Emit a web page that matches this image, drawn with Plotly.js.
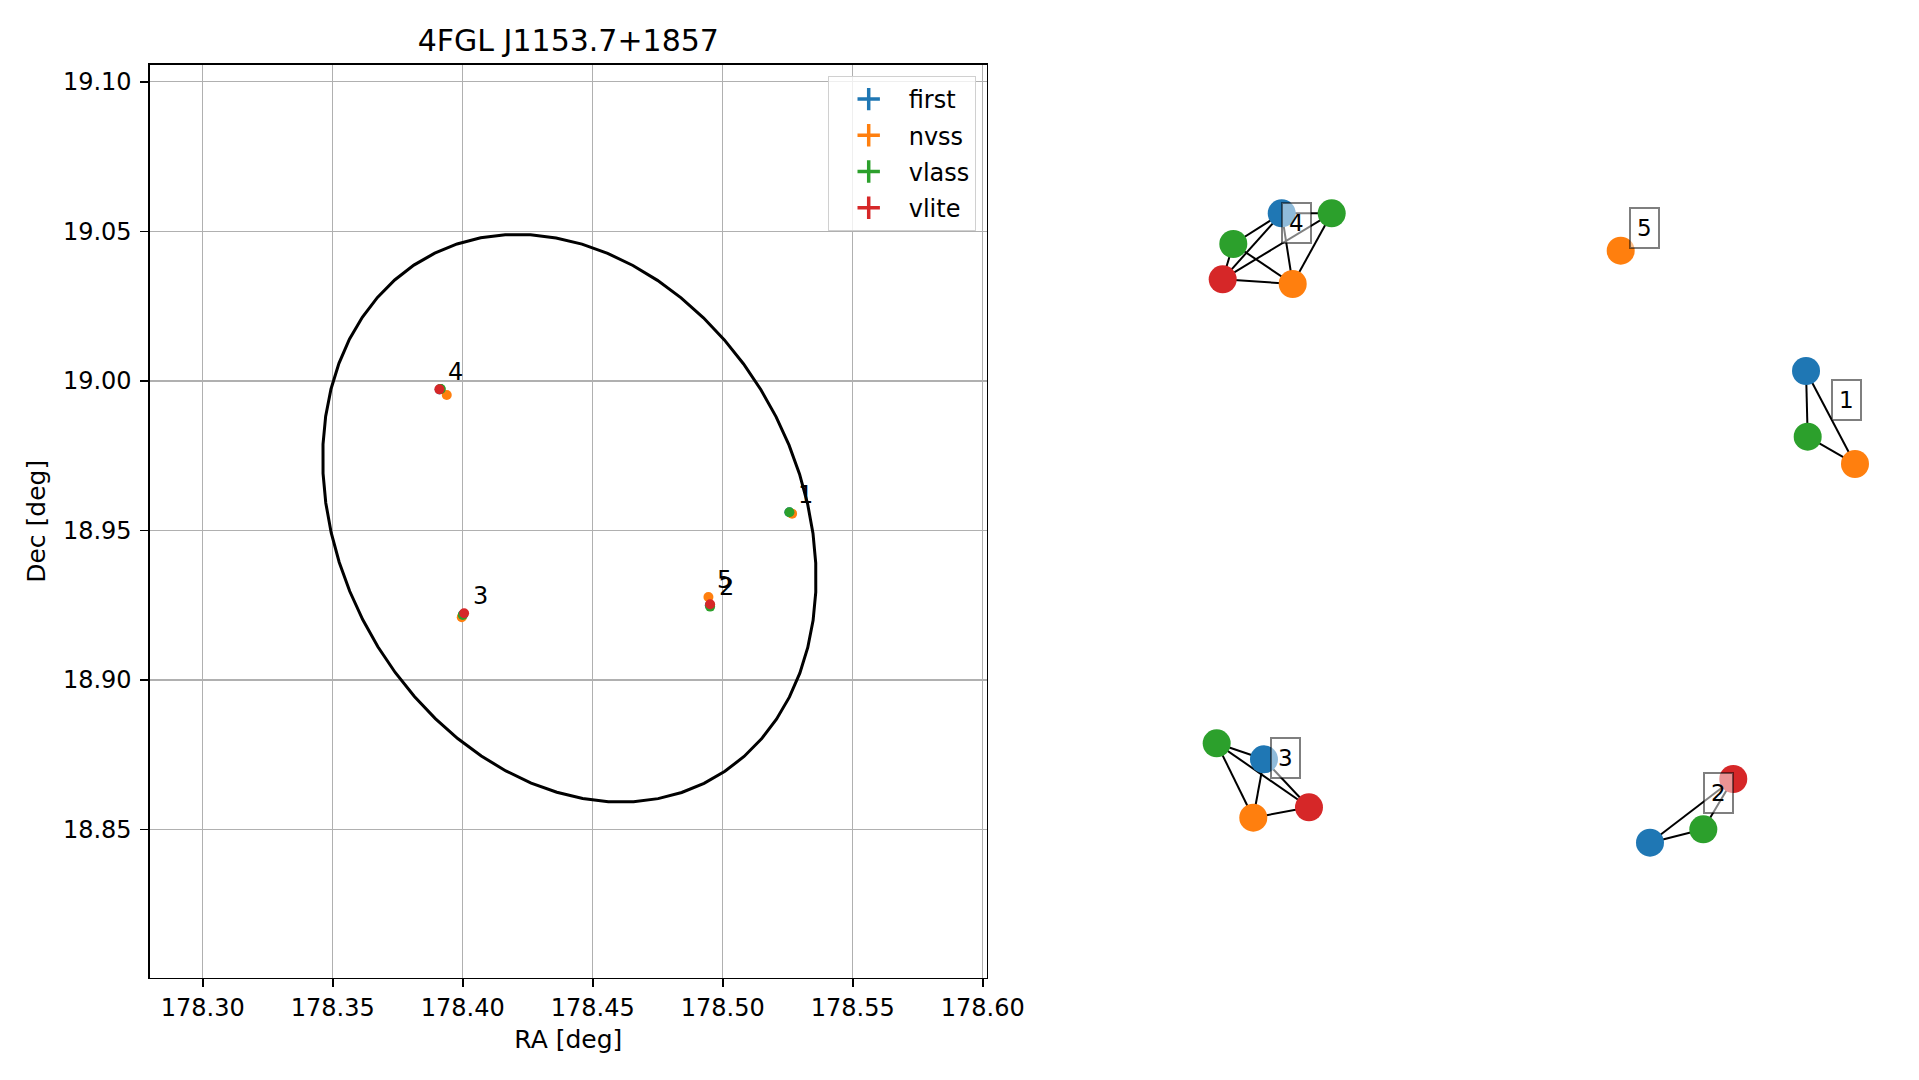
<!DOCTYPE html>
<html>
<head>
<meta charset="utf-8">
<script src="https://cdn.plot.ly/plotly-3.0.1.min.js"></script>
<style>html,body{margin:0;padding:0;background:#fff;}#chart{width:1919px;height:1080px;}</style>
</head>
<body>
<div id="chart"></div>
<script>
// ---------- data ----------
const catNames = ['first', 'nvss', 'vlass', 'vlite'];
const catColors = ['#1f77b4', '#ff7f0e', '#2ca02c', '#d62728'];

// sky positions per catalogue (deg)
const firstRA  = [178.52560, 178.49499, 178.40012, 178.39110];
const firstDec = [18.95612, 18.92499, 18.92187, 18.99710];
const nvssRA   = [178.52665, 178.39960, 178.39383, 178.49447];
const nvssDec  = [18.95563, 18.92098, 18.99529, 18.92777];
const vlassRA  = [178.52563, 178.49512, 178.39999, 178.39153, 178.39140];
const vlassDec = [18.95607, 18.92455, 18.92176, 18.99729, 18.99730];
const vliteRA  = [178.49512, 178.40050, 178.39101];
const vliteDec = [18.92533, 18.92232, 18.99718];

// source (group) ids and their reference positions
const srcIds = ['1', '2', '3', '4', '5'];
const srcRA  = [178.52563, 178.49512, 178.40050, 178.39101, 178.49447];
const srcDec = [18.95607, 18.92533, 18.92232, 18.99718, 18.92777];

// 4FGL error ellipse (centre RA, centre Dec, semi-axes, position angle; deg)
const ellRA = 178.4410, ellDec = 18.9541, ellSemiMajor = 0.1044, ellSemiMinor = 0.0843, ellAngle = -45.0;
const ellVertices = 60;

// axis ranges and ticks
const raRange = [178.2797, 178.6015];
const decRange = [18.8005, 19.1056];
const raTicks = [178.30, 178.35, 178.40, 178.45, 178.50, 178.55, 178.60];
const decTicks = [18.85, 18.90, 18.95, 19.00, 19.05, 19.10];

// cross-match graph (layout coordinates)
const nodeCat = [0, 2, 2, 3, 1, 1, 0, 2, 1, 2, 0, 1, 3, 3, 0, 2];
const nodeX = [-0.4052, -0.2916, -0.5152, -0.5393, -0.3802, 0.3652, 0.7864, 0.7902, 0.8977, -0.5530, -0.4455, -0.4698, -0.3432, 0.6211, 0.4318, 0.5530];
const nodeY = [0.6750, 0.6750, 0.6078, 0.5304, 0.5201, 0.5931, 0.3295, 0.1855, 0.1257, -0.4864, -0.5214, -0.6494, -0.6266, -0.5646, -0.7042, -0.6748];
const edgeFrom = [0, 0, 0, 0, 1, 1, 2, 2, 3, 6, 6, 7, 9, 9, 9, 10, 10, 11, 13, 13, 14];
const edgeTo   = [1, 2, 3, 4, 3, 4, 3, 4, 4, 7, 8, 8, 10, 11, 12, 11, 12, 12, 14, 15, 15];
const netLabels = ['4', '5', '1', '3', '2'];
const netLabelX = [-0.3727, 0.4189, 0.8773, -0.3977, 0.5870];
const netLabelY = [0.6531, 0.6422, 0.2659, -0.5192, -0.5959];

// ---------- build ----------
const FONT = 'DejaVu Sans, Liberation Sans, sans-serif';
const catRA = [firstRA, nvssRA, vlassRA, vliteRA];
const catDec = [firstDec, nvssDec, vlassDec, vliteDec];

const traces = [];

// ellipse outline
const ex = [], ey = [];
const th = ellAngle * Math.PI / 180;
for (let i = 0; i <= ellVertices; i++) {
  const t = 2 * Math.PI * i / ellVertices;
  const u = ellSemiMajor * Math.cos(t), v = ellSemiMinor * Math.sin(t);
  ex.push(ellRA + u * Math.cos(th) - v * Math.sin(th));
  ey.push(ellDec + u * Math.sin(th) + v * Math.cos(th));
}
traces.push({x: ex, y: ey, type: 'scatter', mode: 'lines', line: {color: '#000', width: 3},
  showlegend: false, hoverinfo: 'skip', xaxis: 'x', yaxis: 'y'});

// catalogue points
catNames.forEach((n, i) => {
  traces.push({x: catRA[i], y: catDec[i], type: 'scatter', mode: 'markers', name: n,
    marker: {color: catColors[i], size: 10}, showlegend: false, xaxis: 'x', yaxis: 'y'});
});
// legend entries (errorbar-style crosses)
catNames.forEach((n, i) => {
  traces.push({x: [null], y: [null], type: 'scatter', mode: 'markers', name: n, legendgroup: n,
    marker: {color: catColors[i], symbol: 'cross-thin', size: 24, line: {color: catColors[i], width: 3.5}},
    xaxis: 'x', yaxis: 'y'});
});

// graph edges
const lx = [], ly = [];
edgeFrom.forEach((a, k) => {
  const b = edgeTo[k];
  lx.push(nodeX[a], nodeX[b], null);
  ly.push(nodeY[a], nodeY[b], null);
});
traces.push({x: lx, y: ly, type: 'scatter', mode: 'lines', line: {color: '#000', width: 2},
  showlegend: false, hoverinfo: 'skip', xaxis: 'x2', yaxis: 'y2'});
// graph nodes
traces.push({x: nodeX, y: nodeY, type: 'scatter', mode: 'markers',
  marker: {color: nodeCat.map(c => catColors[c]), size: 28, line: {width: 0}},
  showlegend: false, xaxis: 'x2', yaxis: 'y2'});

const annotations = [];
srcIds.forEach((s, i) => {
  annotations.push({x: srcRA[i], y: srcDec[i], xref: 'x', yref: 'y', text: s, showarrow: false,
    xanchor: 'center', yanchor: 'middle', xshift: 16.5, yshift: 17,
    font: {family: FONT, size: 24, color: '#000'}});
});
netLabels.forEach((s, i) => {
  annotations.push({x: netLabelX[i], y: netLabelY[i], xref: 'x2', yref: 'y2', text: s, showarrow: false,
    xanchor: 'center', yanchor: 'middle', font: {family: FONT, size: 23, color: '#000'},
    bgcolor: 'rgba(255,255,255,0.5)', bordercolor: 'rgba(0,0,0,0.5)', borderwidth: 2, borderpad: 6});
});

const W = 1919, H = 1080;
const axL = 150, axR = 986.7, axT = 65, axB = 977.7;
const tickFont = {family: FONT, size: 24, color: '#000'};

const layout = {
  width: W, height: H,
  margin: {l: 0, r: 0, t: 0, b: 0},
  paper_bgcolor: '#fff', plot_bgcolor: '#fff',
  font: {family: FONT, color: '#000'},
  title: {text: '4FGL J1153.7+1857', x: ((axL + axR) / 2) / W, xanchor: 'center',
    y: 1 - 40 / H, yanchor: 'middle', xref: 'paper', yref: 'paper',
    font: {family: FONT, size: 30, color: '#000'}},
  xaxis: {domain: [axL / W, axR / W], range: raRange, tickvals: raTicks, tickformat: '.2f',
    ticks: 'outside', ticklen: 8, tickwidth: 1.6, tickcolor: '#000',
    showline: true, mirror: true, linecolor: '#000', linewidth: 1.6,
    showgrid: true, gridcolor: '#b0b0b0', gridwidth: 1.33, zeroline: false,
    tickfont: tickFont, ticklabelstandoff: 0,
    title: {text: 'RA [deg]', font: {family: FONT, size: 25, color: '#000'}, standoff: 9},
    anchor: 'y'},
  yaxis: {domain: [1 - axB / H, 1 - axT / H], range: decRange, tickvals: decTicks, tickformat: '.2f',
    ticks: 'outside', ticklen: 8, tickwidth: 1.6, tickcolor: '#000',
    showline: true, mirror: true, linecolor: '#000', linewidth: 1.6,
    showgrid: true, gridcolor: '#b0b0b0', gridwidth: 1.33, zeroline: false,
    tickfont: tickFont, ticklabelstandoff: 4,
    title: {text: 'Dec [deg]', font: {family: FONT, size: 25, color: '#000'}, standoff: 10},
    anchor: 'x'},
  xaxis2: {domain: [1020 / W, 1900 / W], range: [-1, 1], visible: false, anchor: 'y2'},
  yaxis2: {domain: [1 - axB / H, 1 - axT / H], range: [-1, 1], visible: false, anchor: 'x2'},
  showlegend: true,
  legend: {x: 975.7 / W, xanchor: 'right', y: 1 - 76 / H, yanchor: 'top',
    bgcolor: 'rgba(255,255,255,0.8)', bordercolor: '#d0d0d0', borderwidth: 1,
    font: {family: FONT, size: 24, color: '#000'}, tracegroupgap: 2, traceorder: 'grouped',
    itemwidth: 70},
  annotations: annotations
};

Plotly.newPlot('chart', traces, layout, {staticPlot: true, displayModeBar: false});
</script>
</body>
</html>
